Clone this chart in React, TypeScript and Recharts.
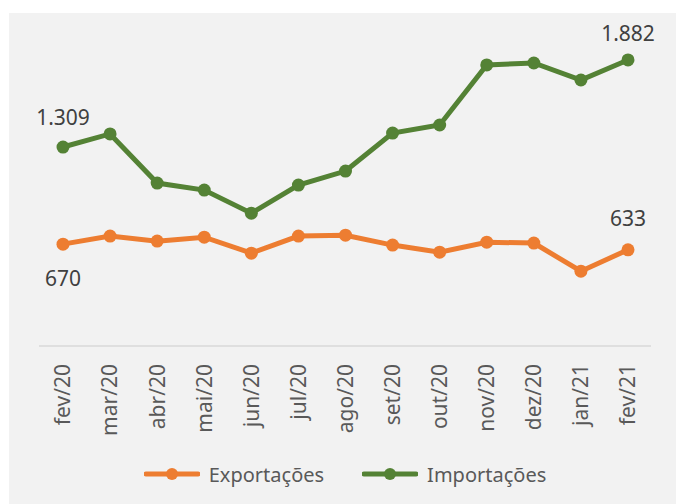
import React from 'react';
import { LineChart, Line, XAxis, YAxis, Legend } from 'recharts';

const months = ['fev/20', 'mar/20', 'abr/20', 'mai/20', 'jun/20', 'jul/20', 'ago/20', 'set/20', 'out/20', 'nov/20', 'dez/20', 'jan/21', 'fev/21'];
const exportacoes = [670, 723, 690, 716, 611, 723, 729, 664, 617, 683, 677, 492, 633];
const importacoes = [1309, 1395, 1072, 1026, 874, 1059, 1151, 1401, 1454, 1849, 1862, 1750, 1882];

const ORANGE = '#ED7D31';
const GREEN = '#548235';
const FONT = '"Noto Sans", "Open Sans", sans-serif';

const data = months.map((m, i) => ({ month: m, exp: exportacoes[i], imp: importacoes[i] }));

const fmt = (v: number) => String(v).replace(/\B(?=(\d{3})+(?!\d))/g, '.');

const MonthTick = (props: any) => {
  const { x, y, payload } = props;
  const top = y + 10;
  return (
    <text
      x={x}
      y={top}
      transform={`rotate(-90 ${x} ${top})`}
      textAnchor="end"
      dy="0.35em"
      fill="#595959"
      fontSize={21}
      fontFamily={FONT}
    >
      {payload.value}
    </text>
  );
};

const makeLabel = (offsets: Record<number, number>) => (props: any) => {
  const { x, y, value, index } = props;
  if (!(index in offsets)) return null;
  return (
    <text
      x={x}
      y={y + offsets[index]}
      textAnchor="middle"
      dominantBaseline="central"
      fill="#404040"
      fontSize={21}
      fontFamily={FONT}
    >
      {fmt(value)}
    </text>
  );
};

const LegendIcon = ({ color }: { color: string }) => (
  <svg width={56} height={14} style={{ display: 'block' }}>
    <line x1={2} y1={7} x2={54} y2={7} stroke={color} strokeWidth={5} strokeLinecap="round" />
    <circle cx={28} cy={7} r={6} fill={color} />
  </svg>
);

const renderLegend = () => (
  <div style={{ height: 40, display: 'flex', justifyContent: 'center', alignItems: 'center', fontFamily: FONT, fontSize: 20, color: '#595959' }}>
    <div style={{ display: 'flex', alignItems: 'center', marginRight: 38 }}>
      <LegendIcon color={ORANGE} />
      <span style={{ marginLeft: 9 }}>Exportações</span>
    </div>
    <div style={{ display: 'flex', alignItems: 'center' }}>
      <LegendIcon color={GREEN} />
      <span style={{ marginLeft: 9 }}>Importações</span>
    </div>
  </div>
);

export default function App() {
  const last = months.length - 1;
  return (
    <div style={{ position: 'fixed', left: 0, top: 0, width: 676, height: 504, background: '#ffffff' }}>
      <div style={{ position: 'absolute', left: 9, top: 13, width: 667, height: 491, background: '#f2f2f2' }}>
        <LineChart width={667} height={491} data={data} margin={{ top: 29, right: 25, left: 30, bottom: 10 }}>
          <XAxis
            dataKey="month"
            interval={0}
            tickLine={false}
            axisLine={{ stroke: '#d9d9d9', strokeWidth: 1.5 }}
            tick={<MonthTick />}
            padding={{ left: 24, right: 23 }}
            height={108}
          />
          <YAxis hide domain={[0, 2000]} />
          <Legend verticalAlign="bottom" content={renderLegend} />
          <Line
            dataKey="exp"
            name="Exportações"
            stroke={ORANGE}
            strokeWidth={5}
            dot={{ r: 6.5, fill: ORANGE, stroke: ORANGE, strokeWidth: 0 }}
            activeDot={false}
            isAnimationActive={false}
            label={makeLabel({ 0: 34, [last]: -32 })}
          />
          <Line
            dataKey="imp"
            name="Importações"
            stroke={GREEN}
            strokeWidth={5}
            dot={{ r: 6.5, fill: GREEN, stroke: GREEN, strokeWidth: 0 }}
            activeDot={false}
            isAnimationActive={false}
            label={makeLabel({ 0: -30, [last]: -27 })}
          />
        </LineChart>
      </div>
    </div>
  );
}
